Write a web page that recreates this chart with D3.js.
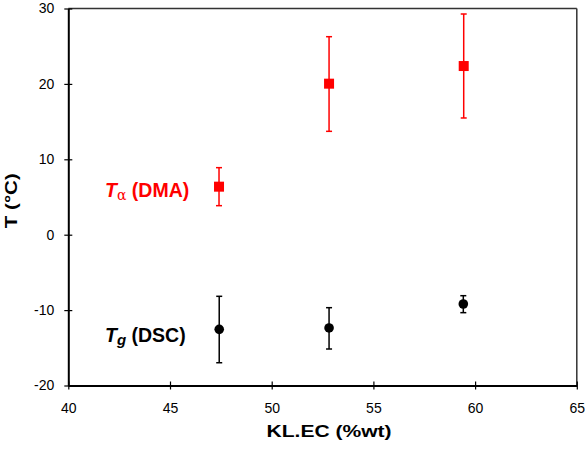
<!DOCTYPE html>
<html><head><meta charset="utf-8">
<script src="https://cdn.jsdelivr.net/npm/d3@7"></script>
<style>body{margin:0;background:#fff}svg{display:block}text{font-family:Arial,"Liberation Sans",sans-serif}</style>
</head><body>
<svg id="c" width="585" height="450"></svg>
<script>
const xTicks = [40, 45, 50, 55, 60, 65];
const yTicks = [-20, -10, 0, 10, 20, 30];
const dmaX = [47.41, 52.82, 59.44];
const dmaY = [6.37, 20.03, 22.37];
const dmaHi = [8.89, 26.26, 29.27];
const dmaLo = [3.85, 13.71, 15.48];
const dscX = [47.42, 52.82, 59.42];
const dscY = [-12.55, -12.37, -9.19];
const dscHi = [-8.17, -9.68, -8.09];
const dscLo = [-16.98, -15.16, -10.34];

const svg = d3.select("#c");
const L = 68.3, R = 576.8, T = 8.5, B = 385.5;
const x = d3.scaleLinear().domain([40, 65]).range([L, R]);
const y = d3.scaleLinear().domain([-20, 30]).range([B, T]);

// frame top & right
svg.append("line").attr("x1", L).attr("x2", R).attr("y1", T).attr("y2", T).attr("stroke", "#333").attr("stroke-width", 1.5);
svg.append("line").attr("x1", R).attr("x2", R).attr("y1", T).attr("y2", B).attr("stroke", "#333").attr("stroke-width", 1.5);

// axes
const xa = svg.append("g").attr("transform", `translate(0,${B})`)
  .call(d3.axisBottom(x).tickValues(xTicks).tickFormat((d) => String(d)).tickSize(0).tickPadding(18));
xa.select(".domain").attr("stroke", "#000").attr("stroke-width", 2);
xa.selectAll(".tick line").remove();
xa.selectAll(".tick").append("line").attr("y1", -4).attr("y2", 4).attr("stroke", "#000").attr("stroke-width", 1.2);
xa.selectAll("text").attr("font-size", 14).attr("fill", "#000").attr("font-family", "Arial, Liberation Sans, sans-serif");

const ya = svg.append("g").attr("transform", `translate(${L},0)`)
  .call(d3.axisLeft(y).tickValues(yTicks).tickFormat((d) => String(d)).tickSize(0).tickPadding(14));
ya.select(".domain").attr("stroke", "#000").attr("stroke-width", 2);
ya.selectAll(".tick line").remove();
ya.selectAll(".tick").append("line").attr("x1", -4).attr("x2", 4).attr("stroke", "#000").attr("stroke-width", 1.2);
ya.selectAll("text").attr("font-size", 14).attr("fill", "#000").attr("font-family", "Arial, Liberation Sans, sans-serif");

// error bars
function errBars(xs, hi, lo, col) {
  const g = svg.append("g").attr("stroke", col).attr("stroke-width", 1.5);
  xs.forEach((v, i) => {
    g.append("line").attr("x1", x(v)).attr("x2", x(v)).attr("y1", y(hi[i])).attr("y2", y(lo[i]));
    g.append("line").attr("x1", x(v) - 3).attr("x2", x(v) + 3).attr("y1", y(hi[i])).attr("y2", y(hi[i]));
    g.append("line").attr("x1", x(v) - 3).attr("x2", x(v) + 3).attr("y1", y(lo[i])).attr("y2", y(lo[i]));
  });
}
errBars(dmaX, dmaHi, dmaLo, "#ff0000");
errBars(dscX, dscHi, dscLo, "#000");

svg.append("g").selectAll("rect").data(dmaX).join("rect")
  .attr("x", (d) => x(d) - 5).attr("y", (d, i) => y(dmaY[i]) - 5)
  .attr("width", 10).attr("height", 10).attr("fill", "#ff0000");
svg.append("g").selectAll("circle").data(dscX).join("circle")
  .attr("cx", (d) => x(d)).attr("cy", (d, i) => y(dscY[i])).attr("r", 4.8).attr("fill", "#000");

// series labels
const t1 = svg.append("text").attr("x", 105).attr("y", 197).attr("fill", "#ff0000").attr("font-size", 19.5).attr("font-weight", "bold");
t1.append("tspan").attr("font-style", "italic").text("T");
t1.append("tspan").attr("font-weight", "normal").attr("font-size", 14).attr("dy", 3).attr("font-family", "DejaVu Serif, serif").text("α");
t1.append("tspan").attr("dy", -3).text(" (DMA)");

const t2 = svg.append("text").attr("x", 105).attr("y", 341.7).attr("fill", "#000").attr("font-size", 19.5).attr("font-weight", "bold");
t2.append("tspan").attr("font-style", "italic").text("T");
t2.append("tspan").attr("font-style", "italic").attr("font-size", 15).attr("dy", 3).text("g");
t2.append("tspan").attr("dy", -3).text(" (DSC)");

// axis titles
svg.append("text").attr("x", 329).attr("y", 437.3).attr("text-anchor", "middle")
  .attr("font-size", 17).attr("font-weight", "bold")
  .attr("textLength", 125).attr("lengthAdjust", "spacingAndGlyphs").text("KL.EC (%wt)");
svg.append("text").attr("transform", "translate(16.7,200.7) rotate(-90)").attr("text-anchor", "middle")
  .attr("font-size", 17).attr("font-weight", "bold")
  .attr("textLength", 55).attr("lengthAdjust", "spacingAndGlyphs").text("T (°C)");
</script>
</body></html>
